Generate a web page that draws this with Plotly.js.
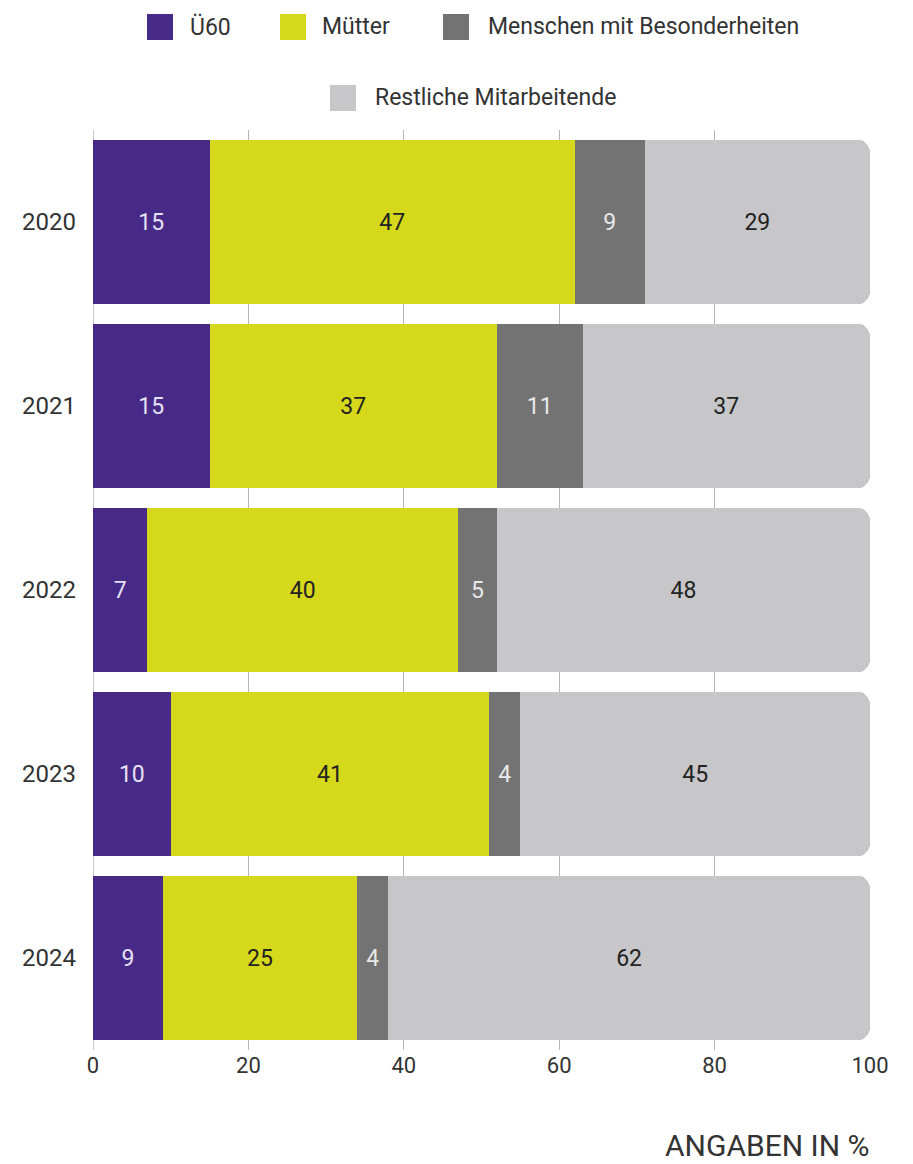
<!DOCTYPE html>
<html>
<head>
<meta charset="utf-8">
<script src="https://cdn.plot.ly/plotly-3.0.1.min.js"></script>
<style>html,body{margin:0;padding:0;background:#fff;}#chart{width:913px;height:1164px;}</style>
</head>
<body>
<div id="chart"></div>
<script>
const years = ['2020', '2021', '2022', '2023', '2024'];
const seriesNames = ['Ü60', 'Mütter', 'Menschen mit Besonderheiten', 'Restliche Mitarbeitende'];
const ue60 = [15, 15, 7, 10, 9];
const muetter = [47, 37, 40, 41, 25];
const besonderheiten = [9, 11, 5, 4, 4];
const restliche = [29, 37, 48, 45, 62];
const xTicks = [0, 20, 40, 60, 80, 100];

const colors = ['#472a87', '#d5d81b', '#737373', '#c7c7c9'];
const textColors = ['#e6e0f4', '#222222', '#e8e8e8', '#222222'];
const values = [ue60, muetter, besonderheiten, restliche];
const FONT = 'Roboto, "Noto Sans", sans-serif';

const W = 913, H = 1164;
const M = {l: 93, r: 43, t: 130, b: 114};
const pw = W - M.l - M.r, ph = H - M.t - M.b;
const px = x => (x - M.l) / pw;
const py = y => (H - M.b - y) / ph;

const traces = seriesNames.map((name, i) => ({
  type: 'bar',
  orientation: 'h',
  name: name,
  y: years,
  x: values[i],
  text: values[i].map(String),
  textposition: 'inside',
  insidetextanchor: 'middle',
  textangle: 0,
  constraintext: 'none',
  textfont: {family: FONT, size: 23, color: textColors[i]},
  marker: {color: colors[i], line: {width: 0}},
  hoverinfo: 'x+name',
  showlegend: false
}));

// custom legend (large squares)
const legendItems = [
  {sq: 147, tx: 188, y: 27},
  {sq: 280, tx: 320, y: 27},
  {sq: 443, tx: 486, y: 27},
  {sq: 330, tx: 373, y: 98}
];
const shapes = [];
const annotations = [];
legendItems.forEach((it, i) => {
  shapes.push({
    type: 'rect', xref: 'paper', yref: 'paper',
    x0: px(it.sq), x1: px(it.sq + 26), y0: py(it.y + 13), y1: py(it.y - 13),
    fillcolor: colors[i], line: {width: 0}
  });
  annotations.push({
    xref: 'paper', yref: 'paper', x: px(it.tx), y: py(it.y),
    xanchor: 'left', yanchor: 'middle', showarrow: false,
    text: seriesNames[i], font: {family: FONT, size: 23, color: '#333333'}
  });
});
annotations.push({
  xref: 'paper', yref: 'paper', x: px(872), y: py(1145),
  xanchor: 'right', yanchor: 'middle', showarrow: false,
  text: 'ANGABEN IN %', font: {family: FONT, size: 30, color: '#333333'}
});

const layout = {
  width: W, height: H,
  margin: M,
  paper_bgcolor: '#ffffff', plot_bgcolor: '#ffffff',
  barmode: 'stack',
  bargap: 0.105,
  barcornerradius: 13,
  showlegend: false,
  xaxis: {
    range: [0, 100], tickvals: xTicks, ticktext: xTicks.map(String),
    showgrid: true, gridcolor: '#b5b5b5', gridwidth: 1,
    zeroline: true, zerolinecolor: '#c8c8c8', zerolinewidth: 1,
    showline: false, ticks: '', fixedrange: true,
    tickfont: {family: FONT, size: 22, color: '#333333'}
  },
  yaxis: {
    autorange: 'reversed', type: 'category',
    showgrid: false, zeroline: false, showline: false, ticks: '',
    ticklabelstandoff: 16,
    tickfont: {family: FONT, size: 24, color: '#333333'}
  },
  shapes: shapes,
  annotations: annotations,
  font: {family: FONT}
};

Plotly.newPlot('chart', traces, layout, {displayModeBar: false, staticPlot: true});
</script>
</body>
</html>
